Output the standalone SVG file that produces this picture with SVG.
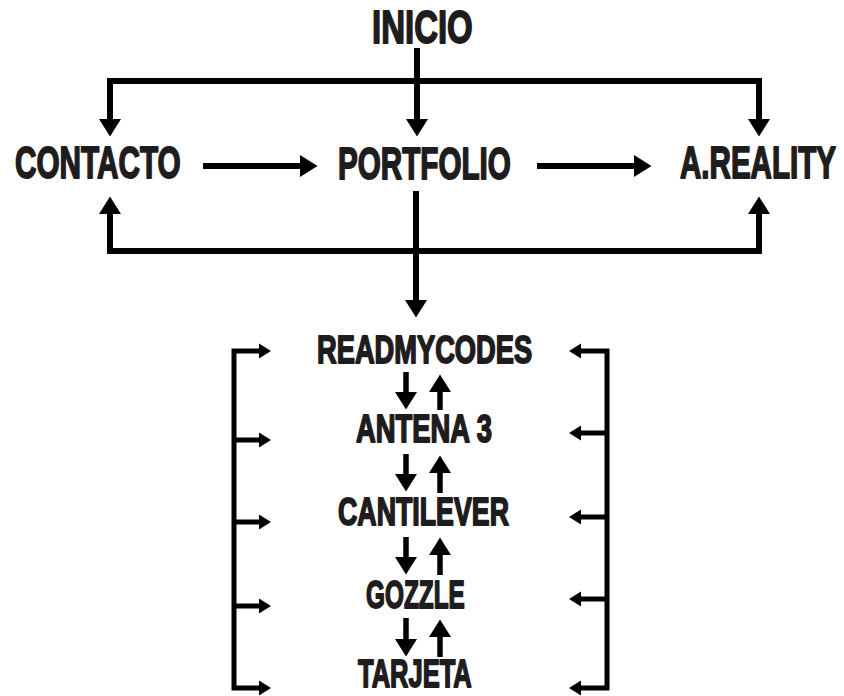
<svg xmlns="http://www.w3.org/2000/svg" width="844" height="696" viewBox="0 0 844 696">
<style>
.lbl{font-family:"Liberation Sans Narrow","Liberation Sans","DejaVu Sans Condensed",Arial,sans-serif;font-weight:bold;fill:#1f1c1d;stroke:#1f1c1d;stroke-width:1.8;stroke-linejoin:round}
.big{font-size:47px}
.mid{font-size:45px}
.sm{font-size:39px}
.ln{fill:none;stroke:#000;stroke-width:6;stroke-linejoin:miter}
.br{fill:none;stroke:#000;stroke-width:5;stroke-linejoin:miter}
.v{fill:none;stroke:#000;stroke-width:5.5}
</style>
<defs>
<marker id="ah" markerUnits="userSpaceOnUse" orient="auto-start-reverse" refX="0" refY="0" markerWidth="20" markerHeight="24" overflow="visible">
<path d="M0,-11 L17.5,0 L0,11 Z" fill="#000"/>
</marker>
<marker id="as" markerUnits="userSpaceOnUse" orient="auto-start-reverse" refX="0" refY="0" markerWidth="14" markerHeight="16" overflow="visible">
<path d="M0,-7.5 L12,0 L0,7.5 Z" fill="#000"/>
</marker>
</defs>
<rect width="844" height="696" fill="#fff"/>
<g id="connectors">
<path class="ln" d="M417,48 V119" marker-end="url(#ah)"/>
<path class="ln" d="M110,119 V81 H759 V119" marker-start="url(#ah)" marker-end="url(#ah)"/>
<path class="ln" d="M203,166 H300" marker-end="url(#ah)"/>
<path class="ln" d="M537,166 H634" marker-end="url(#ah)"/>
<path class="ln" d="M110,214 V251 H759 V214" marker-start="url(#ah)" marker-end="url(#ah)"/>
<path class="ln" d="M416,191 V300" marker-end="url(#ah)"/>
<path class="br" d="M259,351 H234 V688 H259" marker-start="url(#as)" marker-end="url(#as)"/>
<path class="br" d="M234,440 H259" marker-end="url(#as)"/>
<path class="br" d="M234,522 H259" marker-end="url(#as)"/>
<path class="br" d="M234,606 H259" marker-end="url(#as)"/>
<path class="br" d="M581,351 H607 V688 H581" marker-start="url(#as)" marker-end="url(#as)"/>
<path class="br" d="M607,433 H581" marker-end="url(#as)"/>
<path class="br" d="M607,517 H581" marker-end="url(#as)"/>
<path class="br" d="M607,599 H581" marker-end="url(#as)"/>
<path class="v" d="M406,372 V392" marker-end="url(#ah)"/>
<path class="v" d="M440,410 V392" marker-end="url(#ah)"/>
<path class="v" d="M406,454 V474" marker-end="url(#ah)"/>
<path class="v" d="M440,493 V473" marker-end="url(#ah)"/>
<path class="v" d="M406,537 V557" marker-end="url(#ah)"/>
<path class="v" d="M440,575 V555" marker-end="url(#ah)"/>
<path class="v" d="M406,618 V639" marker-end="url(#ah)"/>
<path class="v" d="M440,657 V637" marker-end="url(#ah)"/>
</g>
<g id="inicio"><text class="lbl big" transform="translate(372,43) scale(0.65,1)" textLength="155" lengthAdjust="spacingAndGlyphs">INICIO</text></g>
<g id="contacto"><text class="lbl mid" transform="translate(15,178) scale(0.65,1)" textLength="255" lengthAdjust="spacingAndGlyphs">CONTACTO</text></g>
<g id="portfolio"><text class="lbl mid" transform="translate(338,179) scale(0.65,1)" textLength="266" lengthAdjust="spacingAndGlyphs">PORTFOLIO</text></g>
<g id="areality"><text class="lbl mid" transform="translate(680,178) scale(0.65,1)" textLength="240" lengthAdjust="spacingAndGlyphs">A.REALITY</text></g>
<g id="readmycodes"><text class="lbl sm" transform="translate(317,363) scale(0.65,1)" textLength="331" lengthAdjust="spacingAndGlyphs">READMYCODES</text></g>
<g id="antena3"><text class="lbl sm" transform="translate(356,442) scale(0.65,1)" textLength="209" lengthAdjust="spacingAndGlyphs">ANTENA 3</text></g>
<g id="cantilever"><text class="lbl sm" transform="translate(338,525) scale(0.65,1)" textLength="263" lengthAdjust="spacingAndGlyphs">CANTILEVER</text></g>
<g id="gozzle"><text class="lbl sm" transform="translate(366,608) scale(0.65,1)" textLength="152" lengthAdjust="spacingAndGlyphs">GOZZLE</text></g>
<g id="tarjeta"><text class="lbl sm" transform="translate(358,687) scale(0.65,1)" textLength="175" lengthAdjust="spacingAndGlyphs">TARJETA</text></g>
</svg>
